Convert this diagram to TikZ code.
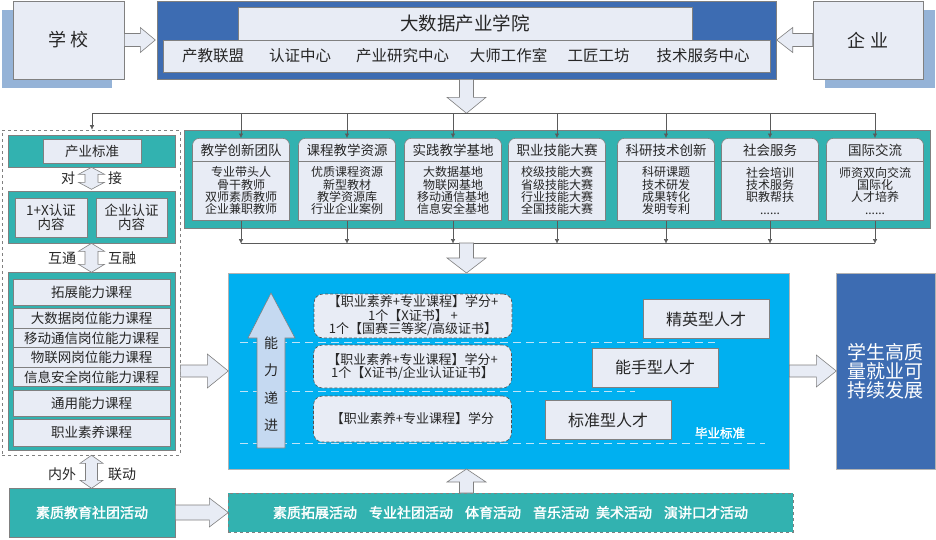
\documentclass[tikz,border=0pt]{standalone}
\usepackage{fontspec}
\setmainfont{Noto Sans CJK SC}[AutoFakeBold=2]
\usetikzlibrary{arrows.meta}

\definecolor{tealpanel}{RGB}{50,178,176}
\definecolor{deepblue}{RGB}{61,108,178}
\definecolor{skyarea}{RGB}{0,176,240}
\definecolor{paleface}{RGB}{232,236,245}
\definecolor{shadowblue}{RGB}{149,179,215}
\definecolor{edgegray}{RGB}{128,128,128}
\definecolor{inkgray}{RGB}{38,38,38}
\definecolor{upfill}{RGB}{197,217,241}
\definecolor{dashline}{RGB}{190,228,248}

\tikzset{
  lightbox/.style={draw=edgegray,fill=paleface,text=inkgray,inner sep=0pt},
  tealbox/.style={draw=edgegray,fill=tealpanel,inner sep=0pt},
  barrow/.style={draw=edgegray,fill=paleface},
  wire/.style={draw=edgegray!70!black},
  wiretip/.style={-{Latex[length=4.5pt,width=4.5pt]}},
  credit/.style={draw=inkgray!80,dash pattern=on 3pt off 2pt,fill=paleface,rounded corners=9pt,inner sep=0pt,align=center,text=inkgray,minimum width=198,font=\fontsize{13}{13.5}\selectfont},
  talent/.style={lightbox,minimum width=126,minimum height=39,font=\fontsize{16}{16}\selectfont},
  course/.style={lightbox,minimum width=157,font=\fontsize{13.5}{14}\selectfont},
  sidelabel/.style={text=inkgray,font=\fontsize{14}{14}\selectfont},
  levelline/.style={draw=dashline,line width=1pt,dash pattern=on 8pt off 5pt}
}

\begin{document}
\begin{tikzpicture}[x=1pt,y=-1pt,line width=0.6pt]
  \useasboundingbox (0,0) rectangle (936,539);

  % school, enterprise, college
  \fill[shadowblue] (2,10) rectangle (112,88);
  \node[lightbox,minimum width=111,minimum height=78,font=\fontsize{18}{18}\selectfont] (school) at (68.5,40) {学 校};
  \fill[shadowblue] (825,10) rectangle (935,88);
  \node[lightbox,minimum width=110,minimum height=78,font=\fontsize{18}{18}\selectfont] (firm) at (868,40) {企 业};
  \node[fill=deepblue,draw=edgegray,minimum width=619,minimum height=78,inner sep=0pt] (college) at (466.5,40) {};
  \node[lightbox,minimum width=454,minimum height=33,font=\fontsize{18.5}{19}\selectfont] (title) at (465,23.5) {大数据产业学院};
  \node[lightbox,minimum width=607,minimum height=32] (units) at (466.5,56) {};
  \foreach \x/\t [count=\k] in {213/产教联盟,300/认证中心,402.5/产业研究中心,508.5/大师工作室,598.5/工匠工坊,703/技术服务中心}
    \node[text=inkgray,font=\fontsize{15.5}{16}\selectfont] (unit\k) at (\x,56) {\t};
  \draw[barrow] (school.east) ++(0,-6.5) -- ++(16,0) -- ++(0,-6) -- ++(15,12.5) -- ++(-15,12.5) -- ++(0,-6) -- ++(-16,0) -- cycle;
  \draw[barrow] (firm.west) ++(0,-6.5) -- ++(-20,0) -- ++(0,-6) -- ++(-16,12.5) -- ++(16,12.5) -- ++(0,-6) -- ++(20,0) -- cycle;
  \draw[barrow] (college.south) ++(-7,0) -- ++(0,18) -- ++(-12.5,0) -- ++(19.5,16) -- ++(19.5,-16) -- ++(-12.5,0) -- ++(0,-18) -- cycle;

  % distribution bus
  \coordinate (busL) at (92,113);
  \coordinate (busR) at (876,113);
  \draw[wire] (busL) -- (busR);

  % left column
  \node[draw=edgegray,dashed,fill=white,minimum width=178,minimum height=325,inner sep=0pt] (lcol) at (91,292.5) {};
  \draw[wire,wiretip] (busL) -- (busL |- lcol.north);
  \node[tealbox,minimum width=167,minimum height=32] (stdpanel) at (91.5,151) {};
  \node[lightbox,minimum width=98,minimum height=24,font=\fontsize{13.5}{14}\selectfont] (std) at (92,151) {产业标准};
  \node[tealbox,minimum width=167,minimum height=52] (certpanel) at (91.5,217) {};
  \node[lightbox,minimum width=72,minimum height=39,align=center,font=\fontsize{13.5}{14}\selectfont] (cert1) at (51,217.5) {1+X认证\\内容};
  \node[lightbox,minimum width=71,minimum height=39,align=center,font=\fontsize{13.5}{14}\selectfont] (cert2) at (131.5,217.5) {企业认证\\内容};
  \node[tealbox,minimum width=167,minimum height=178] (coursepanel) at (91.5,361) {};
  \node[course,minimum height=26] (ext) at (91.5,292) {拓展能力课程};
  \node[course,minimum height=19.5] (post1) at (91.5,318.5) {大数据岗位能力课程};
  \node[course,minimum height=19.5] (post2) at (91.5,338) {移动通信岗位能力课程};
  \node[course,minimum height=19.5] (post3) at (91.5,357.5) {物联网岗位能力课程};
  \node[course,minimum height=19.5] (post4) at (91.5,377) {信息安全岗位能力课程};
  \node[course,minimum height=26] (gen) at (91.5,403) {通用能力课程};
  \node[course,minimum height=27] (prof) at (91.5,432.5) {职业素养课程};

  \draw[barrow] (stdpanel.south) -- ++(13,7) -- ++(-6.5,0) -- ++(0,8) -- ++(6.5,0) -- ++(-13,7) -- ++(-13,-7) -- ++(6.5,0) -- ++(0,-8) -- ++(-6.5,0) -- cycle;
  \node[sidelabel] (dui) at (68,178) {对};
  \node[sidelabel] (jie) at (115,178) {接};
  \draw[barrow] (certpanel.south) -- ++(13,8) -- ++(-6.5,0) -- ++(0,13) -- ++(6.5,0) -- ++(-13,8) -- ++(-13,-8) -- ++(6.5,0) -- ++(0,-13) -- ++(-6.5,0) -- cycle;
  \node[sidelabel] (hutong) at (62,258) {互通};
  \node[sidelabel] (hurong) at (122,258) {互融};
  \draw[barrow] (lcol.south) ++(0.5,0) -- ++(11.5,8) -- ++(-5.5,0) -- ++(0,17) -- ++(5.5,0) -- ++(-11.5,8) -- ++(-11.5,-8) -- ++(5.5,0) -- ++(0,-17) -- ++(-5.5,0) -- cycle;
  \node[sidelabel] (neiwai) at (62,474) {内外};
  \node[sidelabel] (liandong) at (122,474) {联动};
  \node[tealbox,minimum width=166,minimum height=49,text=white,font=\bfseries\fontsize{14}{14}\selectfont] (club) at (92,512.5) {素质教育社团活动};

  % seven building blocks
  \node[tealbox,minimum width=746,minimum height=98] (hub) at (557,179) {};
  \foreach \x/\k/\hd/\bd in {241/1/教学创新团队/{专业带头人\\骨干教师\\双师素质教师\\企业兼职教师},
      347/2/课程教学资源/{优质课程资源\\新型教材\\教学资源库\\行业企业案例},
      453/3/实践教学基地/{大数据基地\\物联网基地\\移动通信基地\\信息安全基地},
      557/4/职业技能大赛/{校级技能大赛\\省级技能大赛\\行业技能大赛\\全国技能大赛},
      666/5/科研技术创新/{科研课题\\技术研发\\成果转化\\发明专利},
      770/6/社会服务/{社会培训\\技术服务\\职教帮扶\\......},
      875/7/国际交流/{师资双向交流\\国际化\\人才培养\\......}}{
    \node[lightbox,rounded corners=7pt,minimum width=97,minimum height=82,anchor=north] (card\k) at (\x,138) {};
    \node[lightbox,minimum width=97,minimum height=59,anchor=north,align=center,font=\fontsize{12}{12.3}\selectfont] (body\k) at (\x,161) {\bd};
    \node[text=inkgray,font=\fontsize{13.5}{14}\selectfont] (head\k) at (\x,150) {\hd};
    \draw[wire,wiretip] (busL -| card\k.north) -- (card\k.north);
    \draw[wire,wiretip] (body\k.south) -- ++(0,23);
  }
  \draw[wire] (body1.south |- 0,243) -- (body7.south |- 0,243);
  \draw[barrow] (459.5,243) -- ++(0,15) -- ++(-12.5,0) -- ++(19.5,15) -- ++(19.5,-15) -- ++(-12.5,0) -- ++(0,-15) -- cycle;

  % talent levels
  \node[fill=skyarea,draw=edgegray!60,minimum width=561,minimum height=196,inner sep=0pt] (area) at (508.5,371) {};
  \draw[levelline] (240,342) -- (715,342);
  \draw[levelline] (240,391) -- (635,391);
  \draw[levelline] (240,443) -- (765,443);
  \draw[fill=upfill,draw=edgegray] (257,448) -- (257,338) -- (248,338) -- (271,293) -- (295,338) -- (285,338) -- (285,448) -- cycle;
  \foreach \y/\c [count=\k] in {343/能,370/力,398/递,425/进}
    \node[sidelabel] (step\k) at (271,\y) {\c};
  \node[credit,minimum height=44] (cr1) at (413,316) {【职业素养+专业课程】学分+\\1个【X证书】 +\\1个【国赛三等奖/高级证书】};
  \node[credit,minimum height=43] (cr2) at (412.5,366.5) {【职业素养+专业课程】学分+\\1个【X证书/企业认证证书】};
  \node[credit,minimum height=46] (cr3) at (412.5,419) {【职业素养+专业课程】学分};
  \node[talent] (elite) at (706,319) {精英型人才};
  \node[talent] (skilled) at (655,367.5) {能手型人才};
  \node[talent] (basic) at (608,420) {标准型人才};
  \node[text=white,font=\bfseries\fontsize{12.5}{13}\selectfont] (grad) at (720,433) {毕业标准};

  % outcome
  \node[fill=deepblue,draw=edgegray!60,minimum width=99,minimum height=196,inner sep=0pt,align=center,text=white,font=\fontsize{19}{19}\selectfont] (outcome) at (885.5,371) {学生高质\\量就业可\\持续发展};
  \draw[barrow] (area.east) ++(0,-6) -- ++(27,0) -- ++(0,-10) -- ++(20,16) -- ++(-20,16) -- ++(0,-10) -- ++(-27,0) -- cycle;
  \draw[barrow] (lcol.east |- area.west) ++(0,-6) -- ++(27,0) -- ++(0,-11) -- ++(21,17) -- ++(-21,17) -- ++(0,-11) -- ++(-27,0) -- cycle;

  % activities
  \node[tealbox,dashed,minimum width=565,minimum height=39,text=white,font=\bfseries\fontsize{14}{14}\selectfont] (acts) at (510.5,512.5) {素质拓展活动\hspace{12pt}专业社团活动\hspace{12pt}体育活动\hspace{12pt}音乐活动\hspace{7pt}美术活动\hspace{12pt}演讲口才活动};
  \draw[barrow] (club.east) ++(0,-7.5) -- ++(34,0) -- ++(0,-7) -- ++(19,14.5) -- ++(-19,14.5) -- ++(0,-7) -- ++(-34,0) -- cycle;
  \draw[barrow] (459.5,493) -- ++(0,-11) -- ++(-12.5,0) -- ++(19.5,-13) -- ++(19.5,13) -- ++(-12.5,0) -- ++(0,11) -- cycle;
\end{tikzpicture}
\end{document}
